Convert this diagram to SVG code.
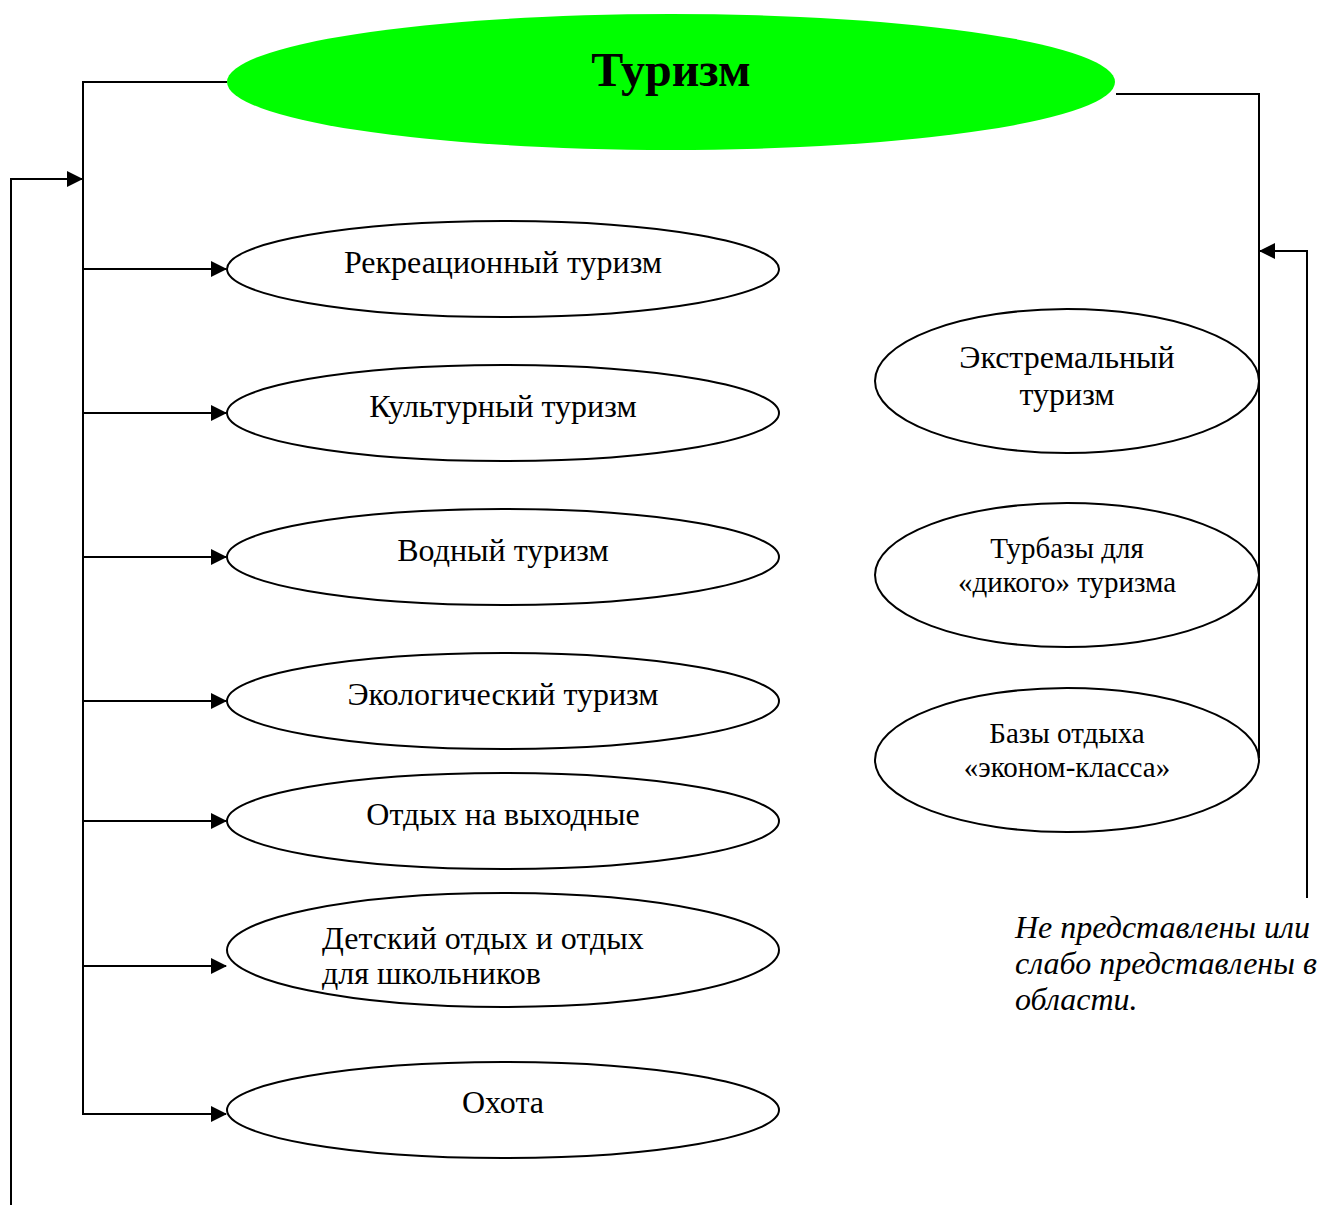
<svg xmlns="http://www.w3.org/2000/svg" width="1318" height="1205" viewBox="0 0 1318 1205">
<style>
.n{fill:#fff;stroke:#000;stroke-width:2}
.t{font-family:"Liberation Serif","Times New Roman",serif;font-size:32px;fill:#000;text-anchor:middle}
.s{font-size:29px}
.c{fill:none;stroke:#000;stroke-width:2}
.i{font-family:"Liberation Serif","Times New Roman",serif;font-size:32px;font-style:italic;fill:#000}
</style>
<defs>
<marker id="ah" markerWidth="16" markerHeight="16" refX="15" refY="8" orient="auto" markerUnits="userSpaceOnUse">
<path d="M0,0 L16,8 L0,16 z" fill="#000"/>
</marker>
</defs>
<rect width="1318" height="1205" fill="#fff"/>
<g id="connectors">
<polyline class="c" points="227,82 83,82 83,1114"/>
<polyline class="c" points="11,1205 11,179 82,179" marker-end="url(#ah)"/>
<line class="c" x1="83" y1="269" x2="226" y2="269" marker-end="url(#ah)"/>
<line class="c" x1="83" y1="413" x2="226" y2="413" marker-end="url(#ah)"/>
<line class="c" x1="83" y1="557" x2="226" y2="557" marker-end="url(#ah)"/>
<line class="c" x1="83" y1="701" x2="226" y2="701" marker-end="url(#ah)"/>
<line class="c" x1="83" y1="821" x2="226" y2="821" marker-end="url(#ah)"/>
<line class="c" x1="83" y1="966" x2="226" y2="966" marker-end="url(#ah)"/>
<line class="c" x1="82" y1="1114" x2="226" y2="1114" marker-end="url(#ah)"/>
<polyline class="c" points="1116,94 1259,94 1259,758"/>
<polyline class="c" points="1307,898 1307,251 1260,251" marker-end="url(#ah)"/>
</g>
<g id="n-turizm">
<ellipse cx="671" cy="82" rx="444" ry="68" fill="#00ff00"/>
<text x="671" y="86" class="t" style="font-size:48px;font-weight:bold">Туризм</text>
</g>
<g id="n-rekr">
<ellipse class="n" cx="503" cy="269" rx="276" ry="48"/>
<text class="t" x="503" y="273">Рекреационный туризм</text>
</g>
<g id="n-kult">
<ellipse class="n" cx="503" cy="413" rx="276" ry="48"/>
<text class="t" x="503" y="417">Культурный туризм</text>
</g>
<g id="n-vodn">
<ellipse class="n" cx="503" cy="557" rx="276" ry="48"/>
<text class="t" x="503" y="561">Водный туризм</text>
</g>
<g id="n-ekol">
<ellipse class="n" cx="503" cy="701" rx="276" ry="48"/>
<text class="t" x="503" y="705">Экологический туризм</text>
</g>
<g id="n-vyh">
<ellipse class="n" cx="503" cy="821" rx="276" ry="48"/>
<text class="t" x="503" y="825">Отдых на выходные</text>
</g>
<g id="n-det">
<ellipse class="n" cx="503" cy="950" rx="276" ry="57"/>
<text class="t" x="322" y="949" style="text-anchor:start">Детский отдых и отдых</text>
<text class="t" x="322" y="984" style="text-anchor:start">для школьников</text>
</g>
<g id="n-ohota">
<ellipse class="n" cx="503" cy="1110" rx="276" ry="48"/>
<text class="t" x="503" y="1113">Охота</text>
</g>
<g id="n-ekstr">
<ellipse class="n" cx="1067" cy="381" rx="192" ry="72"/>
<text class="t" x="1067" y="368">Экстремальный</text>
<text class="t" x="1067" y="405">туризм</text>
</g>
<g id="n-turbazy">
<ellipse class="n" cx="1067" cy="575" rx="192" ry="72"/>
<text class="t s" x="1067" y="558">Турбазы для</text>
<text class="t s" x="1067" y="592">«дикого» туризма</text>
</g>
<g id="n-bazy">
<ellipse class="n" cx="1067" cy="760" rx="192" ry="72"/>
<text class="t s" x="1067" y="743">Базы отдыха</text>
<text class="t s" x="1067" y="777">«эконом-класса»</text>
</g>
<g id="note">
<text class="i" x="1015" y="938">Не представлены или</text>
<text class="i" x="1015" y="974">слабо представлены в</text>
<text class="i" x="1015" y="1010">области.</text>
</g>
</svg>
